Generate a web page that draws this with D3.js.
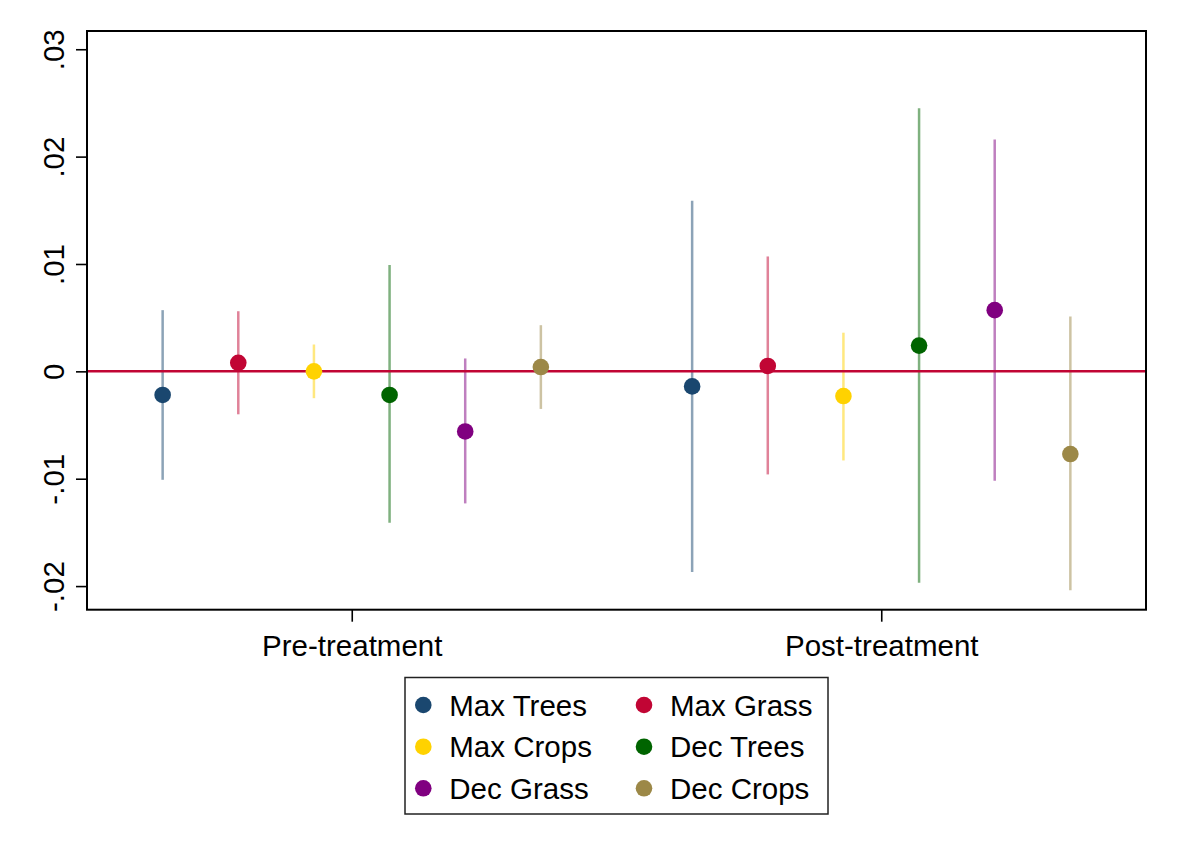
<!DOCTYPE html>
<html>
<head>
<meta charset="utf-8">
<script src="https://cdn.jsdelivr.net/npm/d3@7"></script>
<style>
  body { margin: 0; background: #fff; }
  text { font-family: "Liberation Sans", Arial, sans-serif; fill: #000; }
</style>
</head>
<body>
<div id="chart"></div>
<script>
// coefficient plot, pre vs post treatment
var groups = ["Pre-treatment", "Post-treatment"];
var seriesNames = ["Max Trees", "Max Grass", "Max Crops", "Dec Trees", "Dec Grass", "Dec Crops"];
var seriesColors = ["#1a476f", "#c10534", "#ffd200", "#006400", "#800080", "#9c8847"];

// estimates and 95% CI
var estPre  = [-0.0022, 0.0008, 0.0000, -0.0022, -0.0056, 0.0004];
var loPre   = [-0.0101, -0.0040, -0.0025, -0.0141, -0.0123, -0.0035];
var hiPre   = [0.0057, 0.0056, 0.0025, 0.0099, 0.0012, 0.0043];
var estPost = [-0.0014, 0.0005, -0.0023, 0.0024, 0.0057, -0.0077];
var loPost  = [-0.0187, -0.0096, -0.0083, -0.0197, -0.0102, -0.0204];
var hiPost  = [0.0159, 0.0107, 0.0036, 0.0245, 0.0216, 0.0051];

var yTicks = [-0.02, -0.01, 0, 0.01, 0.02, 0.03];
var yTickLabels = ["-.02", "-.01", "0", ".01", ".02", ".03"];

var width = 1177, height = 856;
var plotLeft = 87, plotRight = 1146, plotTop = 31, plotBottom = 609.7;
var fontSize = 29.5;

var svg = d3.select("#chart").append("svg")
  .attr("width", width)
  .attr("height", height);

var xScale = d3.scaleLinear().domain([0.5, 2.5]).range([plotLeft, plotRight]);
var yScale = d3.scaleLinear().domain([-0.0222, 0.0317]).range([plotBottom, plotTop]);

// build rows from the arrays
var rows = [];
var est = [estPre, estPost], lo = [loPre, loPost], hi = [hiPre, hiPost];
groups.forEach(function(g, gi) {
  seriesNames.forEach(function(s, si) {
    rows.push({
      x: gi + 1 + (si - 2.5) / 7,
      est: est[gi][si], lo: lo[gi][si], hi: hi[gi][si],
      color: seriesColors[si]
    });
  });
});

// CI lines
svg.append("g").selectAll("line").data(rows).enter()
  .append("line")
  .attr("x1", function(d) { return xScale(d.x); })
  .attr("x2", function(d) { return xScale(d.x); })
  .attr("y1", function(d) { return yScale(d.lo); })
  .attr("y2", function(d) { return yScale(d.hi); })
  .attr("stroke", function(d) { return d.color; })
  .attr("stroke-opacity", 0.5)
  .attr("stroke-width", 2.5);

// zero line
svg.append("line")
  .attr("x1", plotLeft).attr("x2", plotRight)
  .attr("y1", yScale(0)).attr("y2", yScale(0))
  .attr("stroke", "#c10534")
  .attr("stroke-width", 2.5);

// points
svg.append("g").selectAll("circle").data(rows).enter()
  .append("circle")
  .attr("cx", function(d) { return xScale(d.x); })
  .attr("cy", function(d) { return yScale(d.est); })
  .attr("r", 8.3)
  .attr("fill", function(d) { return d.color; });

// frame
svg.append("rect")
  .attr("x", plotLeft).attr("y", plotTop)
  .attr("width", plotRight - plotLeft).attr("height", plotBottom - plotTop)
  .attr("fill", "none")
  .attr("stroke", "#000")
  .attr("stroke-width", 2);

// y axis
var yAxis = d3.axisLeft(yScale)
  .tickValues(yTicks)
  .tickSize(11)
  .tickFormat(function(d, i) { return yTickLabels[i]; });

var yG = svg.append("g")
  .attr("transform", "translate(" + plotLeft + ",0)")
  .call(yAxis);
yG.select(".domain").remove();
yG.selectAll(".tick line").attr("stroke", "#000").attr("stroke-width", 1.6);
yG.selectAll(".tick text")
  .attr("font-size", fontSize)
  .attr("font-family", "Liberation Sans, Arial, sans-serif")
  .attr("fill", "#000")
  .attr("text-anchor", "middle")
  .attr("transform", "rotate(-90)")
  .attr("x", 0)
  .attr("y", -23)
  .attr("dy", 0);

// x axis
var xAxis = d3.axisBottom(xScale)
  .tickValues([1, 2])
  .tickSize(12)
  .tickFormat(function(d) { return groups[d - 1]; });

var xG = svg.append("g")
  .attr("transform", "translate(0," + plotBottom + ")")
  .call(xAxis);
xG.select(".domain").remove();
xG.selectAll(".tick line").attr("stroke", "#000").attr("stroke-width", 1.6);
xG.selectAll(".tick text")
  .attr("font-size", fontSize)
  .attr("font-family", "Liberation Sans, Arial, sans-serif")
  .attr("fill", "#000")
  .attr("y", 46)
  .attr("dy", 0);

// legend
var legend = svg.append("g");
legend.append("rect")
  .attr("x", 405).attr("y", 677.5)
  .attr("width", 423).attr("height", 136.5)
  .attr("fill", "#fff")
  .attr("stroke", "#222")
  .attr("stroke-width", 1.5);

var colX = [423.3, 644];
var rowY = [705, 746.7, 788.3];
var items = legend.selectAll("g.item").data(seriesNames).enter()
  .append("g").attr("class", "item")
  .attr("transform", function(d, i) {
    return "translate(" + colX[i % 2] + "," + rowY[Math.floor(i / 2)] + ")";
  });
items.append("circle")
  .attr("r", 8.3)
  .attr("fill", function(d, i) { return seriesColors[i]; });
items.append("text")
  .attr("x", 26)
  .attr("y", 10.5)
  .attr("font-size", fontSize)
  .text(function(d) { return d; });
</script>
</body>
</html>
